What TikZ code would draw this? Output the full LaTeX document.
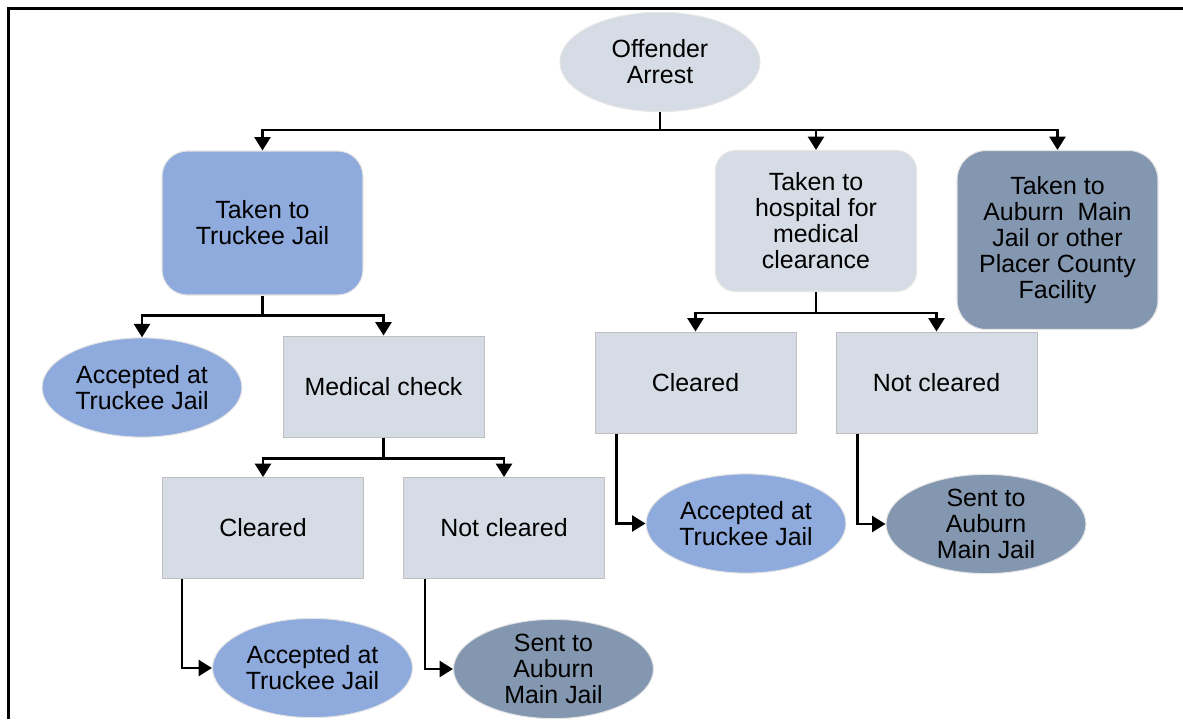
\documentclass[tikz,border=0pt]{standalone}
\usepackage{fontspec}
\setmainfont{Liberation Sans}
\usetikzlibrary{arrows.meta,calc,shapes.geometric}
\definecolor{lgray}{HTML}{D6DCE5}
\definecolor{lblue}{HTML}{8FAADC}
\definecolor{slate}{HTML}{8497B0}
\definecolor{edgegray}{HTML}{BFBFBF}
\begin{document}
\begin{tikzpicture}[x=0.75pt,y=-0.75pt,
  every node/.style={font=\fontsize{18.7}{19.5}\selectfont, align=center, inner sep=0pt},
  ell/.style={ellipse, draw=gray!20, line width=0.8pt, minimum width=150pt, minimum height=74.5pt},
  rbox/.style={rectangle, draw=gray!20, line width=0.8pt, minimum width=150.75pt},
  sbox/.style={rectangle, draw=edgegray, line width=0.75pt, fill=lgray, minimum width=150.75pt, minimum height=75.75pt},
  ln/.style={line width=1.7pt},
  arr/.style={ln, -{Triangle[width=12pt,length=10pt]}}
]
\useasboundingbox (0,0) rectangle (1183,719);
\draw[line width=2.25pt] (8.5,719) -- (8.5,8.5) -- (1183,8.5);

% nodes
\node[ell, fill=lgray] (arrest) at (660,62) {Offender\\Arrest};
\node[rbox, fill=lblue, rounded corners=19pt, minimum height=108pt] (truckee) at (262.5,223) {Taken to\\Truckee Jail};
\node[rbox, fill=lgray, rounded corners=15pt, minimum height=105.75pt] (hosp) at (816,221) {Taken to\\hospital for\\medical\\clearance};
\node[rbox, fill=slate, rounded corners=22pt, minimum height=134.25pt] (auburn) at (1057.5,240) {Taken to\\Auburn\ \ Main\\Jail or other\\Placer County\\Facility};

\node[ell, fill=lblue] (accA) at (142,387.5) {Accepted at\\Truckee Jail};
\node[sbox] (med) at (383.5,386.5) {Medical check};

\node[sbox] (clL) at (263,528) {Cleared};
\node[sbox] (ncL) at (504,528) {Not cleared};
\node[ell, fill=lblue] (accB) at (312.5,668) {Accepted at\\Truckee Jail};
\node[ell, fill=slate] (sentB) at (553.5,669) {Sent to\\Auburn\\Main Jail};

\node[sbox] (clR) at (695.5,382.5) {Cleared};
\node[sbox] (ncR) at (936.5,382.5) {Not cleared};
\node[ell, fill=lblue] (accC) at (746,523.5) {Accepted at\\Truckee Jail};
\node[ell, fill=slate] (sentC) at (986,524) {Sent to\\Auburn\\Main Jail};

% connectors
\coordinate (j0) at (660,130);
\draw[ln] (arrest.south) -- (j0);
\draw[arr] (j0) -| (truckee.north);
\draw[arr] (j0) -| (hosp.north);
\draw[arr] (j0) -| (auburn.north);

\coordinate (j1) at ($(truckee.south)+(0,20)$);
\draw[ln] (truckee.south) -- (j1);
\draw[arr] (j1) -| (accA.north);
\draw[arr] (j1) -| (med.north);

\coordinate (j2) at ($(med.south)+(0,21)$);
\draw[ln] (med.south) -- (j2);
\draw[arr] (j2) -| (clL.north);
\draw[arr] (j2) -| (ncL.north);

\coordinate (j3) at ($(hosp.south)+(0,21)$);
\draw[ln] (hosp.south) -- (j3);
\draw[arr] (j3) -| (clR.north);
\draw[arr] (j3) -| (ncR.north);

\draw[arr] ($(clL.south west)+(20,0)$) |- (accB.west);
\draw[arr] ($(ncL.south west)+(22,0)$) |- (sentB.west);
\draw[arr] ($(clR.south west)+(22,0)$) |- (accC.west);
\draw[arr] ($(ncR.south west)+(22,0)$) |- (sentC.west);
\end{tikzpicture}
\end{document}
